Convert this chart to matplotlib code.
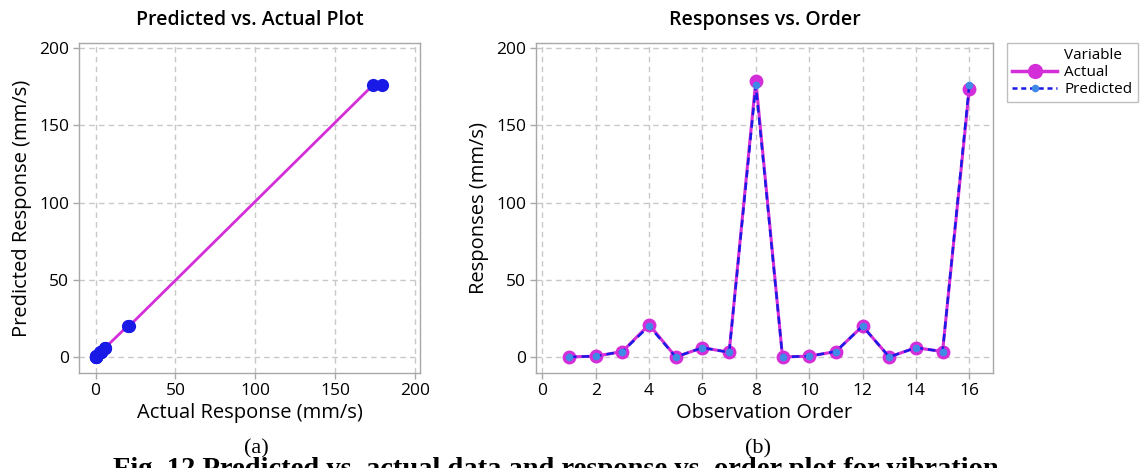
import numpy as np
import matplotlib.pyplot as plt
from matplotlib.lines import Line2D

# data
order = list(range(1, 17))
actual = [0, 0.5, 3.5, 21, 0, 6, 3, 179, 0, 0.5, 3.5, 20, 0, 6, 3.5, 173.5]
predicted = [0, 0.5, 3.5, 20, 0, 6, 3, 176, 0, 0.5, 3.5, 20, 0, 6, 3.5, 176]

ticks_resp = [0, 50, 100, 150, 200]
ticks_order = [0, 2, 4, 6, 8, 10, 12, 14, 16]

MAGENTA = '#d42ed8'
BLUE = '#1a1ae6'
LIGHTBLUE = '#3f8ae6'
GRIDC = '#c8c8c8'
SPINEC = '#a8a8a8'

plt.rcParams['font.family'] = ['Open Sans', 'DejaVu Sans']

fig = plt.figure(figsize=(11.43, 4.68), dpi=100)
ax1 = fig.add_axes([0.0691, 0.203, 0.2983, 0.7045])
ax2 = fig.add_axes([0.4687, 0.203, 0.4003, 0.7045])


def style(ax):
    for s in ax.spines.values():
        s.set_color(SPINEC)
        s.set_linewidth(1.0)
    ax.tick_params(colors=SPINEC, labelcolor='black', labelsize=12.5,
                   length=4, width=1, pad=3)
    for lab in ax.get_xticklabels() + ax.get_yticklabels():
        lab.set_fontweight('medium')
    ax.grid(True, color=GRIDC, linestyle=(0, (4, 3)), linewidth=1.0)
    ax.set_axisbelow(True)


# (a) predicted vs actual
pairs = sorted(zip(actual, predicted))
xs = [p[0] for p in pairs]
ys = [p[1] for p in pairs]
ax1.plot(xs, ys, color=MAGENTA, linewidth=2, zorder=2)
ax1.plot(actual, predicted, 'o', color=BLUE, markersize=9.5, zorder=3,
         markeredgewidth=0)
ax1.set_xlim(-10.4, 203)
ax1.set_ylim(-10.4, 203.2)
ax1.set_xticks(ticks_resp)
ax1.set_yticks(ticks_resp)
style(ax1)
ax1.set_title('Predicted vs. Actual Plot', fontsize=14, fontweight='semibold', pad=13)
ax1.set_xlabel('Actual Response (mm/s)', fontsize=14.5, fontweight='medium', labelpad=3)
ax1.set_ylabel('Predicted Response (mm/s)', fontsize=14.5, fontweight='medium', labelpad=5)

# (b) responses vs order
ax2.plot(order, actual, '-o', color=MAGENTA, linewidth=2.2, markersize=10,
         markeredgewidth=0, zorder=2)
ax2.plot(order, predicted, '--o', color=BLUE, linewidth=1.8, markersize=5.5,
         markerfacecolor=LIGHTBLUE, markeredgewidth=0, dashes=(3, 2), zorder=3)
ax2.set_xlim(-0.25, 16.9)
ax2.set_ylim(-10.4, 203.2)
ax2.set_xticks(ticks_order)
ax2.set_yticks(ticks_resp)
style(ax2)
ax2.set_title('Responses vs. Order', fontsize=14, fontweight='semibold', pad=13)
ax2.set_xlabel('Observation Order', fontsize=14.5, fontweight='medium', labelpad=3)
ax2.set_ylabel('Responses (mm/s)', fontsize=14.5, fontweight='medium', labelpad=5)

handles = [
    Line2D([], [], linestyle='none'),
    Line2D([], [], color=MAGENTA, linewidth=2.5, marker='o', markersize=11,
           markeredgewidth=0),
    Line2D([], [], color=BLUE, linewidth=1.8, linestyle='--', dashes=(2, 1.5),
           marker='o', markersize=5.5, markerfacecolor=LIGHTBLUE, markeredgewidth=0),
]
leg = fig.legend(handles, ['Variable', 'Actual', 'Predicted'],
                 loc='upper left', bbox_to_anchor=(1007 / 1143, 425 / 468),
                 fontsize=11, frameon=True, fancybox=False, handlelength=2.9,
                 handletextpad=0.5, borderpad=0.35, labelspacing=0.12,
                 borderaxespad=0)
leg.get_frame().set_edgecolor('#b0b0b0')
leg.get_frame().set_linewidth(1.0)

# captions
fig.text(256 / 1143, 1 - 449 / 468, '(a)', ha='center', va='center',
         family='Liberation Serif', fontsize=16)
fig.text(758 / 1143, 1 - 449 / 468, '(b)', ha='center', va='center',
         family='Liberation Serif', fontsize=16)
fig.text(113 / 1143, 1 - 476 / 468,
         'Fig. 12 Predicted vs. actual data and response vs. order plot for vibration',
         ha='left', va='baseline', family='Liberation Serif', fontsize=20.5,
         fontweight='bold')

fig.savefig('out.png', dpi=100)
